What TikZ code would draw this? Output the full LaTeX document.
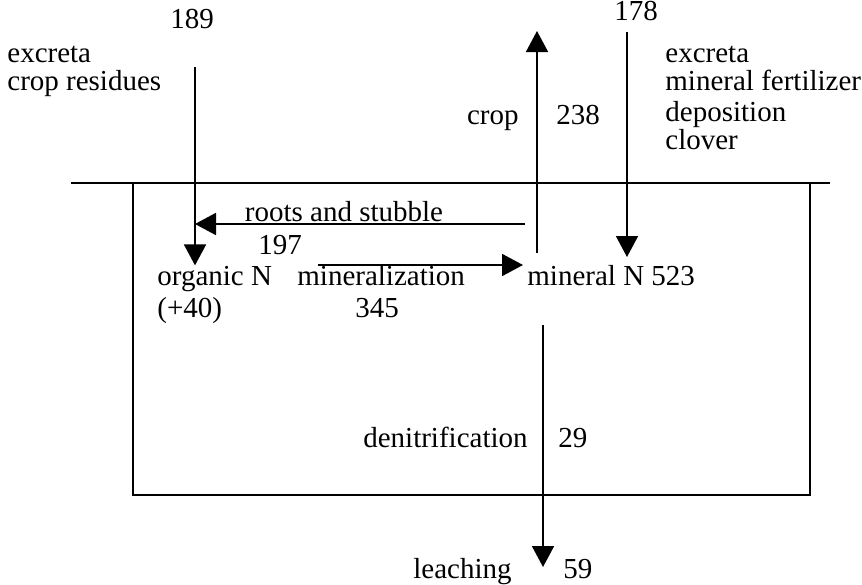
\documentclass[tikz,border=0pt]{standalone}
\usepackage{fontspec}
\setmainfont{Liberation Serif}
\usetikzlibrary{arrows.meta, positioning}
\tikzset{
  lbl/.style    = {inner sep=0pt, font=\fontsize{14.5}{15}\selectfont, anchor=base west},
  lblr/.style   = {lbl, anchor=base east},
  lblc/.style   = {lbl, anchor=base},
  flow/.style   = {-{Triangle[length=10.5pt, width=11pt]}, line width=0.9pt},
  soilline/.style = {line width=0.9pt},
}
\begin{document}
\begin{tikzpicture}[x=0.5pt, y=-0.5pt]
  \useasboundingbox (0,0) rectangle (862,584);
  % ---- ground surface and soil box ----
  \draw[soilline] (71,183) -- (830,183);
  \draw[soilline] (133,183) -- (133,495) -- (810,495) -- (810,183);
  % ---- inputs left ----
  \node[lblc] (in189) at (192,28) {189};
  \node[lbl] (exL) at (7,62) {excreta};
  \node[lbl] (resL) at (7,90) {crop residues};
  % ---- inputs right ----
  \node[lblc] (in178) at (636,20) {178};
  \node[lbl] (exR) at (665,62) {excreta};
  \node[lbl] (fertR) at (665,90) {mineral fertilizer};
  \node[lbl] (depR) at (665,121) {deposition};
  \node[lbl] (clovR) at (665,149) {clover};
  % ---- crop uptake ----
  \node[lblr] (crop) at (519,124) {crop};
  \node[lbl] (up238) at (556,124) {238};
  % ---- soil pools ----
  \node[lblc] (roots) at (344,221) {roots and stubble};
  \node[lbl] (rt197) at (258,254) {197};
  \node[lbl] (orgN) at (157,285) {organic N};
  \node[lbl] (minz) at (297,285) {mineralization};
  \node[lbl] (minN) at (527,285) {mineral N 523};
  \node[lbl] (org40) at (157,317) {(+40)};
  \node[lblc] (mz345) at (377,317) {345};
  % ---- losses ----
  \node[lblr] (denit) at (528,447) {denitrification};
  \node[lbl] (dn29) at (558,447) {29};
  \node[lblr] (leach) at (512,578) {leaching};
  \node[lbl] (lc59) at (563,578) {59};
  % ---- flows ----
  \coordinate (inL) at (195,67);
  \coordinate (inR) at (627,32);
  \coordinate (inRtip) at (627,257);
  \coordinate (rootsA) at (525,224);
  \coordinate (minA) at (318,265);
  \coordinate (cropA) at (537,253);
  \coordinate (cropB) at (537,31);
  \coordinate (leachA) at (543,325);
  \coordinate (leachB) at (543,567);
  \draw[flow] (inL) -- (inL |- orgN.north);
  \draw[flow] (inR) -- (inRtip);
  \draw[flow] (rootsA) -- (inL |- rootsA);
  \draw[flow, shorten >=2pt] (minA) -- (minA -| minN.west);
  \draw[flow] (cropA) -- (cropB);
  \draw[flow] (leachA) -- (leachB);
\end{tikzpicture}
\end{document}
